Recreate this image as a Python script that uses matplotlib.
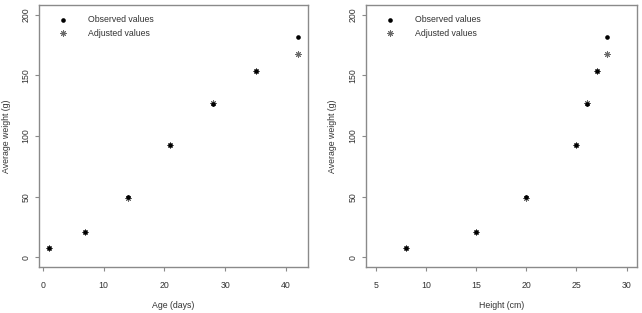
import matplotlib
matplotlib.use("Agg")
import matplotlib.pyplot as plt

plt.rcParams['font.family'] = ['Liberation Sans', 'DejaVu Sans']

# data
age_days = [1, 7, 14, 21, 28, 35, 42]
height_cm = [8, 15, 20, 25, 26, 27, 28]
observed = [8, 20.5, 49.5, 92.5, 126.5, 153.5, 181.5]
adjusted = [8, 20.5, 48.5, 92.5, 127.5, 153.5, 168]

x_ticks_age = [0, 10, 20, 30, 40]
x_ticks_height = [5, 10, 15, 20, 25, 30]
y_ticks = [0, 50, 100, 150, 200]

FRAME = '#8a8a8a'
TEXT = '#333333'
STAR = '#6a6a6a'
FS = 6.3

W, H = 642, 313


def panel(rect, x, xlim, xticks, xlabel, ylab_x):
    ax = fig.add_axes(rect)
    ax.scatter(x, adjusted, marker=(8, 2, 0), s=16, color=STAR,
               linewidths=0.7, label='Adjusted values', zorder=2)
    ax.scatter(x, observed, marker='o', s=11, color='black',
               linewidths=0, label='Observed values', zorder=3)
    ax.set_xlim(*xlim)
    ax.set_ylim(-8, 208)
    ax.set_xticks(xticks)
    ax.set_yticks(y_ticks)
    for s in ax.spines.values():
        s.set_color(FRAME)
        s.set_linewidth(1.0)
    ax.tick_params(direction='out', length=3, width=0.8, color=FRAME,
                   labelsize=FS, labelcolor=TEXT)
    ax.tick_params(axis='x', pad=7.0)
    ax.tick_params(axis='y', pad=3.0)
    for lab in ax.get_yticklabels():
        lab.set_rotation(90)
        lab.set_va('center')
    ax.set_xlabel(xlabel, fontsize=FS, color=TEXT)
    ax.set_ylabel('Average weight (g)', fontsize=FS, color=TEXT)
    ax.xaxis.set_label_coords(0.5, -0.128)
    ax.yaxis.set_label_coords(ylab_x, 0.5)

    h, l = ax.get_legend_handles_labels()
    ax.legend(h[::-1], l[::-1], loc='upper left',
              bbox_to_anchor=(0.074, 0.962), frameon=False, fontsize=FS,
              borderpad=0, borderaxespad=0, handlelength=1.0,
              handletextpad=2.3, labelspacing=0.55, labelcolor=TEXT)
    return ax


fig = plt.figure(figsize=(W / 100, H / 100), dpi=100)
fig.patch.set_facecolor('white')

panel([39 / W, (H - 267) / H, 269 / W, 262 / H], age_days,
      (1 - 1.64, 42 + 1.64), x_ticks_age, 'Age (days)', (11 - 39) / 269)
panel([365.7 / W, (H - 267) / H, 271 / W, 262 / H], height_cm,
      (4, 31), x_ticks_height, 'Height (cm)', (337 - 365.7) / 271)

fig.savefig('out.png', dpi=100)
